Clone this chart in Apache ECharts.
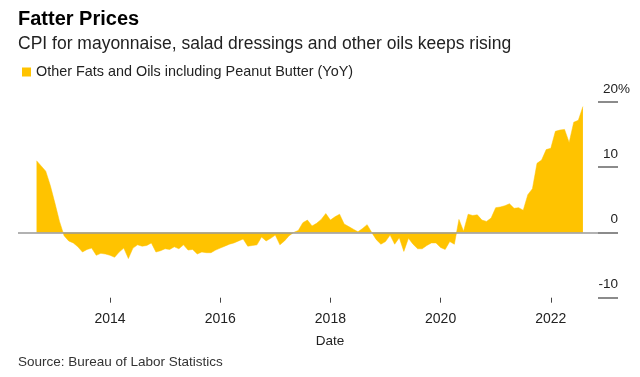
<!DOCTYPE html>
<html>
<head>
<meta charset="utf-8">
<script src="https://cdn.jsdelivr.net/npm/echarts@6/dist/echarts.min.js"></script>
<style>
html,body{margin:0;padding:0;background:#fff;}
#chart{width:640px;height:377px;}
</style>
</head>
<body>
<div id="chart"></div>
<script>
// Monthly YoY % change, Sep 2012 .. Aug 2022
const firstYear = 2012;
const firstMonth = 9;
const yoy = [
  11.0, 10.2, 9.4, 7.2,
  4.5, 1.7, -0.5, -1.3, -1.6, -2.2, -3.0, -2.6, -2.4, -3.5, -3.2, -3.3,
  -3.5, -3.8, -3.0, -2.4, -4.0, -2.4, -1.9, -2.1, -2.0, -1.6, -3.0, -2.8,
  -2.5, -2.6, -2.2, -2.5, -1.9, -2.7, -2.6, -3.3, -3.0, -3.1, -3.1, -2.7,
  -2.4, -2.1, -1.8, -1.6, -1.3, -1.0, -2.1, -2.0, -1.9, -0.7, -1.3, -0.9,
  -0.4, -1.9, -1.3, -0.5, 0.0, 0.3, 1.5, 1.9, 1.0, 1.4, 2.0, 2.9,
  1.9, 2.4, 2.8, 1.3, 0.9, 0.5, 0.1, 0.6, 1.2, 0.0, -1.1, -1.8,
  -1.4, -0.4, -1.8, -0.8, -2.9, -0.9, -1.8, -2.5, -2.5, -2.0, -1.6, -1.6,
  -2.3, -2.6, -1.4, -1.8, 2.0, 0.2, 2.8, 2.6, 2.7, 1.9, 1.7, 2.2,
  3.8, 3.9, 4.1, 4.4, 3.7, 3.8, 3.4, 5.8, 6.7, 10.6, 11.1, 12.7,
  12.9, 15.5, 15.7, 15.8, 13.8, 16.9, 17.2, 19.3
];
const xTicks = [2014, 2016, 2018, 2020, 2022];
const yTicks = [-10, 0, 10, 20];
const seriesName = 'Other Fats and Oils including Peanut Butter (YoY)';

const seriesData = yoy.map((v, i) => {
  const m = firstMonth - 1 + i;
  return [firstYear + m / 12, v];
});

const FONT = 'Liberation Sans';
const chart = echarts.init(document.getElementById('chart'), null, {renderer: 'canvas'});
chart.setOption({
  animation: false,
  backgroundColor: '#fff',
  textStyle: {fontFamily: FONT},
  title: [
    {text: 'Fatter Prices', left: 18, top: 9, padding: 0,
     textStyle: {fontFamily: FONT, fontWeight: 'bold', fontSize: 20, color: '#000'}},
    {text: 'CPI for mayonnaise, salad dressings and other oils keeps rising', left: 18, top: 35, padding: 0,
     textStyle: {fontFamily: FONT, fontWeight: 'normal', fontSize: 17.5, color: '#222'}},
    {text: 'Source: Bureau of Labor Statistics', left: 18, top: 355, padding: 0,
     textStyle: {fontFamily: FONT, fontWeight: 'normal', fontSize: 13.5, color: '#333'}}
  ],
  legend: {
    data: [seriesName], left: 22, top: 65, padding: 0,
    icon: 'rect', itemWidth: 9, itemHeight: 9, itemGap: 5,
    textStyle: {fontFamily: FONT, fontSize: 14.4, color: '#222', padding: [0,0,0,0]},
    selectedMode: false
  },
  grid: {left: 18, right: 42, top: 102, bottom: 79.3},
  xAxis: {
    type: 'value', min: 2012.33, max: 2022.857,
    name: 'Date', nameLocation: 'middle', nameGap: 37,
    nameTextStyle: {fontFamily: FONT, fontSize: 13.5, color: '#222', padding: [0, 0, 0, 44]},
    axisLine: {show: false, onZero: false},
    splitLine: {show: false},
    axisTick: {show: true, customValues: xTicks, length: 5, lineStyle: {color: '#444', width: 1}},
    axisLabel: {customValues: xTicks, margin: 14, fontFamily: FONT, fontSize: 14, color: '#222',
      formatter: v => String(v)}
  },
  yAxis: {
    type: 'value', position: 'right', min: -10, max: 20, interval: 10,
    axisLine: {show: false},
    splitLine: {show: false},
    axisTick: {show: true, length: 20, lineStyle: {color: '#666', width: 1.5}},
    axisLabel: {
      margin: 32, align: 'right', verticalAlign: 'bottom', padding: [0, 0, 6, 0],
      formatter: v => (v === 20 ? '{n|20}{p|%}' : '{n|' + v + '}{p|\u00a0}'),
      rich: {
        n: {fontFamily: FONT, fontSize: 13.5, color: '#222', lineHeight: 14},
        p: {fontFamily: FONT, fontSize: 13.5, color: '#222', width: 12, lineHeight: 14}
      }
    }
  },
  series: [{
    name: seriesName,
    type: 'line',
    data: seriesData,
    symbol: 'none',
    color: '#ffc300',
    lineStyle: {width: 0.5, color: '#ffc300'},
    areaStyle: {color: '#ffc300', opacity: 1},
    markLine: {
      silent: true, symbol: 'none', label: {show: false},
      lineStyle: {color: '#999', type: 'solid', width: 1.5},
      data: [{yAxis: 0}]
    }
  }]
});
</script>
</body>
</html>
